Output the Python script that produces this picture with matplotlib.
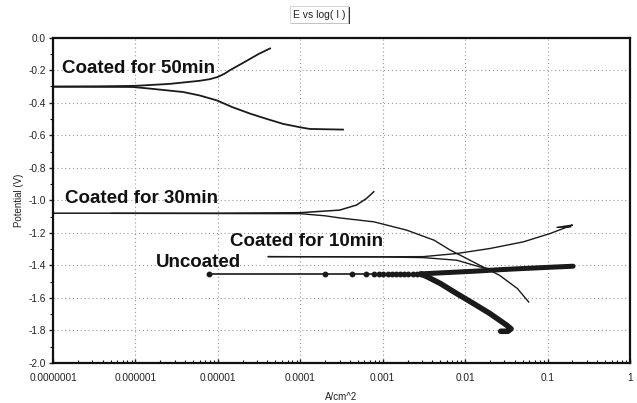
import matplotlib
matplotlib.use("Agg")
import matplotlib.pyplot as plt
from matplotlib.patches import Rectangle
from matplotlib.ticker import FixedLocator, MultipleLocator, LogLocator, NullFormatter

plt.rcParams['font.family'] = ['Liberation Sans', 'DejaVu Sans']

# Coated for 50min
i50_up = [1.0e-7, 3.7e-7, 1.0e-6, 2.6e-6, 6.0e-6, 8.0e-6, 1.0e-5, 1.2e-5, 1.4e-5,
          2.1e-5, 3.1e-5, 4.3e-5]
e50_up = [-0.301, -0.299, -0.296, -0.284, -0.265, -0.255, -0.241, -0.222, -0.200,
          -0.150, -0.101, -0.066]
i50_dn = [1.0e-7, 9.3e-7, 1.5e-6, 3.8e-6, 6.0e-6, 9.8e-6, 1.5e-5, 2.5e-5, 3.9e-5,
          6.2e-5, 1.0e-4, 1.3e-4, 3.3e-4]
e50_dn = [-0.301, -0.303, -0.313, -0.334, -0.355, -0.386, -0.427, -0.468, -0.499,
          -0.530, -0.551, -0.561, -0.565]

# Coated for 30min
i30_up = [1.0e-7, 1.0e-5, 1.0e-4, 1.6e-4, 3.0e-4, 4.8e-4, 6.3e-4, 7.8e-4]
e30_up = [-1.079, -1.079, -1.076, -1.069, -1.060, -1.029, -0.990, -0.947]
i30_dn = [5.2e-7, 1.0e-4, 2.0e-4, 3.0e-4, 7.8e-4, 1.95e-3, 4.2e-3, 6.6e-3, 9.5e-3,
          1.5e-2, 2.6e-2, 4.3e-2, 5.9e-2]
e30_dn = [-1.080, -1.082, -1.095, -1.108, -1.132, -1.183, -1.245, -1.306, -1.347,
          -1.399, -1.460, -1.542, -1.625]

# Coated for 10min
i10_up = [4.1e-5, 1.0e-3, 3.1e-3, 7.9e-3, 2.0e-2, 5.1e-2, 0.107, 0.186, 0.20, 0.13, 0.19]
e10_up = [-1.346, -1.347, -1.346, -1.327, -1.296, -1.255, -1.204, -1.158, -1.152,
          -1.166, -1.163]
i10_dn = [4.1e-5, 1.0e-3, 3.1e-3, 7.9e-3, 1.5e-2, 2.2e-2]
e10_dn = [-1.346, -1.348, -1.352, -1.368, -1.409, -1.425]

# Uncoated
iu_flat = [7.9e-6, 2.0e-4, 4.2e-4, 6.2e-4, 7.8e-4, 8.9e-4, 1.0e-3, 1.15e-3, 1.3e-3,
           1.45e-3, 1.6e-3, 1.8e-3, 2.0e-3, 2.3e-3, 2.6e-3, 2.9e-3]
eu_flat = [-1.452, -1.452, -1.452, -1.452, -1.452, -1.452, -1.452, -1.452, -1.452,
           -1.452, -1.452, -1.452, -1.452, -1.452, -1.452, -1.452]
iu_ano = [2.9e-3, 6.0e-3, 1.26e-2, 2.5e-2, 5.1e-2, 0.10, 0.204]
eu_ano = [-1.452, -1.444, -1.436, -1.427, -1.419, -1.412, -1.405]
iu_cat = [2.9e-3, 3.5e-3, 5.0e-3, 7.9e-3, 1.26e-2, 2.0e-2, 3.2e-2, 3.6e-2, 3.3e-2, 2.7e-2]
eu_cat = [-1.452, -1.471, -1.511, -1.573, -1.634, -1.696, -1.768, -1.790, -1.805, -1.805]

xticks = [1e-7, 1e-6, 1e-5, 1e-4, 1e-3, 1e-2, 1e-1, 1]
xlabels = ['0.0000001', '0.000001', '0.00001', '0.0001', '0.001', '0.01', '0.1', '1']
yticks = [0.0, -0.2, -0.4, -0.6, -0.8, -1.0, -1.2, -1.4, -1.6, -1.8, -2.0]

W, H = 637, 403
fig = plt.figure(figsize=(W / 100, H / 100), dpi=100)
ax = fig.add_axes([53 / W, 1 - 363 / H, 577 / W, 325.3 / H])

c = '#1a1a1a'
ax.plot(i50_up, e50_up, color=c, lw=1.3)
ax.plot(i50_dn, e50_dn, color=c, lw=1.3)
ax.plot(i30_up, e30_up, color=c, lw=1.1)
ax.plot(i30_dn, e30_dn, color=c, lw=1.0)
ax.plot(i10_up, e10_up, color=c, lw=1.0)
ax.plot(i10_dn, e10_dn, color=c, lw=1.0)
ax.plot(iu_flat, eu_flat, color=c, lw=1.2, marker='o', ms=3.2)
ax.plot(iu_ano, eu_ano, color=c, lw=3.6, solid_capstyle='round')
ax.plot(iu_cat, eu_cat, color=c, lw=4.0, solid_capstyle='round')

lab = dict(fontsize=13.5, fontweight='bold', color='#111', ha='left', va='baseline')
ax.text(1.28e-7, -0.217, 'Coated for 50min', **lab)
ax.text(1.4e-7, -1.016, 'Coated for 30min', **lab)
ax.text(1.41e-5, -1.283, 'Coated for 10min', **lab)
ax.text(1.78e-6, -1.41, 'Uncoated', **lab)

ax.set_xscale('log')
ax.set_xlim(1e-7, 1)
ax.set_ylim(-2.0, 0.0)
ax.xaxis.set_major_locator(FixedLocator(xticks))
ax.set_xticklabels(xlabels)
ax.xaxis.set_minor_locator(LogLocator(base=10, subs=range(2, 10), numticks=20))
ax.xaxis.set_minor_formatter(NullFormatter())
ax.yaxis.set_major_locator(FixedLocator(yticks))
ax.set_yticklabels(['%.1f' % v for v in yticks])
ax.yaxis.set_minor_locator(MultipleLocator(0.1))

ax.tick_params(axis='both', which='major', labelsize=7.3, labelcolor='#222', length=3,
               width=1.0, color='#222', pad=2)
ax.tick_params(axis='x', which='both', direction='in')
ax.tick_params(axis='x', which='major', pad=7)
ax.tick_params(axis='x', which='minor', length=2, width=0.8)
ax.tick_params(axis='y', which='minor', length=2, width=0.8, direction='out')
ax.grid(True, which='major', ls=(0, (1, 2.5)), color='#999', lw=0.8)

for s in ax.spines.values():
    s.set_linewidth(1.6)
    s.set_color('#111')

ax.set_xlabel('A/cm^2', fontsize=7, color='#222', labelpad=7)
ax.set_ylabel('Potential (V)', fontsize=7, color='#222', labelpad=3)

# title button
fig.patches.append(Rectangle((292 / W, 1 - 24 / H), 58 / W, 17 / H, transform=fig.transFigure,
                             facecolor='#333', edgecolor='none'))
fig.patches.append(Rectangle((290 / W, 1 - 22.5 / H), 58 / W, 16 / H, transform=fig.transFigure,
                             facecolor='white', edgecolor='#ccc', lw=0.6))
fig.text(319 / W, 1 - 15 / H, 'E vs log( I )', fontsize=7.5, color='#222', ha='center', va='center')

fig.savefig('out.png', dpi=100)
